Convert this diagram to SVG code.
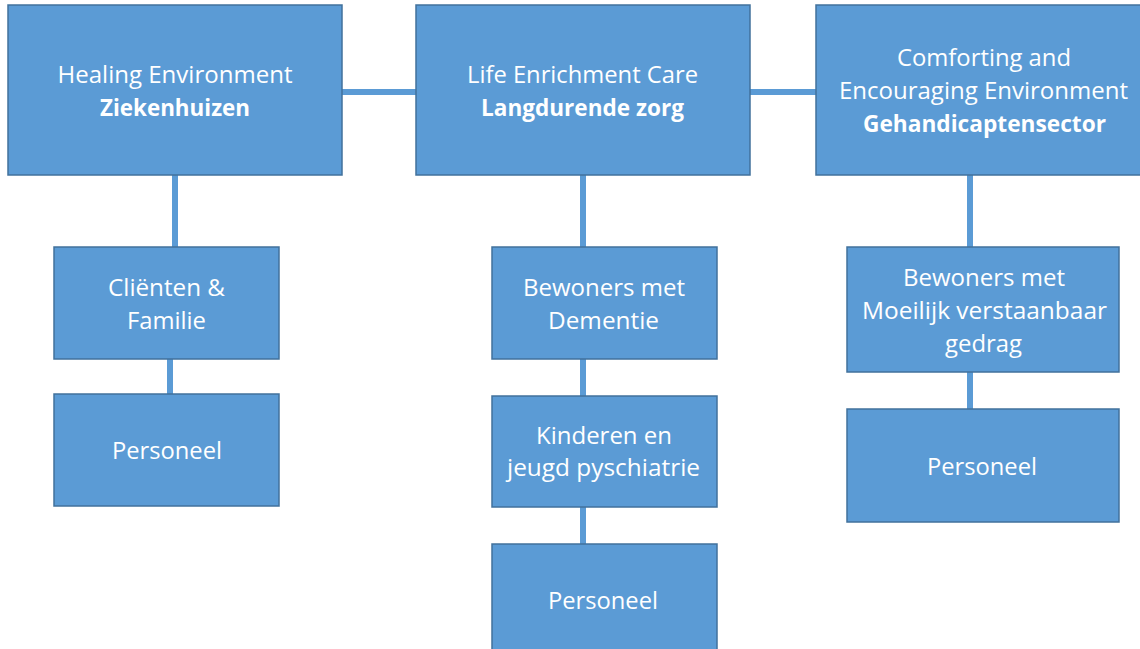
<svg xmlns="http://www.w3.org/2000/svg" width="1140" height="649" viewBox="0 0 1140 649">
<style>
.box{fill:#5B9BD5;stroke:#41719C;stroke-width:1.5}
.t{font-family:"Open Sans","Noto Sans",sans-serif;font-size:23px;fill:#FFFFFF;text-anchor:middle}
.b{font-weight:bold}
.c{stroke:#5B9BD5;stroke-width:6;fill:none}
</style>
<rect width="1140" height="649" fill="#FFFFFF"/>
<g id="connectors">
<line class="c" x1="342" y1="92" x2="416" y2="92"/>
<line class="c" x1="750" y1="92" x2="816" y2="92"/>
<line class="c" x1="175" y1="175" x2="175" y2="247"/>
<line class="c" x1="170" y1="359" x2="170" y2="394"/>
<line class="c" x1="583" y1="175" x2="583" y2="247"/>
<line class="c" x1="583" y1="359" x2="583" y2="396"/>
<line class="c" x1="583" y1="507" x2="583" y2="544"/>
<line class="c" x1="970" y1="175" x2="970" y2="247"/>
<line class="c" x1="970" y1="372" x2="970" y2="409"/>
</g>
<g id="healing">
<rect class="box" x="8" y="5" width="334" height="170"/>
<text class="t" x="175" y="83" textLength="235" lengthAdjust="spacingAndGlyphs">Healing Environment</text>
<text class="t b" x="175" y="116" textLength="150" lengthAdjust="spacingAndGlyphs">Ziekenhuizen</text>
</g>
<g id="life">
<rect class="box" x="416" y="5" width="334" height="170"/>
<text class="t" x="582.5" y="83" textLength="231" lengthAdjust="spacingAndGlyphs">Life Enrichment Care</text>
<text class="t b" x="582.5" y="116" textLength="203" lengthAdjust="spacingAndGlyphs">Langdurende zorg</text>
</g>
<g id="comforting">
<rect class="box" x="816" y="5" width="334" height="170"/>
<text class="t" x="984" y="66" textLength="174" lengthAdjust="spacingAndGlyphs">Comforting and</text>
<text class="t" x="983.5" y="99" textLength="289" lengthAdjust="spacingAndGlyphs">Encouraging Environment</text>
<text class="t b" x="984.5" y="132" textLength="243" lengthAdjust="spacingAndGlyphs">Gehandicaptensector</text>
</g>
<g id="clienten">
<rect class="box" x="54" y="247" width="225" height="112"/>
<text class="t" x="166.5" y="296" textLength="117" lengthAdjust="spacingAndGlyphs">Cliënten &amp;</text>
<text class="t" x="166.5" y="329" textLength="79" lengthAdjust="spacingAndGlyphs">Familie</text>
</g>
<g id="personeel1">
<rect class="box" x="54" y="394" width="225" height="112"/>
<text class="t" x="167" y="459" textLength="110" lengthAdjust="spacingAndGlyphs">Personeel</text>
</g>
<g id="dementie">
<rect class="box" x="492" y="247" width="225" height="112"/>
<text class="t" x="604" y="296" textLength="162" lengthAdjust="spacingAndGlyphs">Bewoners met</text>
<text class="t" x="603.5" y="329" textLength="111" lengthAdjust="spacingAndGlyphs">Dementie</text>
</g>
<g id="kinderen">
<rect class="box" x="492" y="396" width="225" height="111"/>
<text class="t" x="604" y="444" textLength="136" lengthAdjust="spacingAndGlyphs">Kinderen en</text>
<text class="t" x="603.5" y="476" textLength="193" lengthAdjust="spacingAndGlyphs">jeugd pyschiatrie</text>
</g>
<g id="personeel2">
<rect class="box" x="492" y="544" width="225" height="112"/>
<text class="t" x="603" y="609" textLength="110" lengthAdjust="spacingAndGlyphs">Personeel</text>
</g>
<g id="moeilijk">
<rect class="box" x="847" y="247" width="272" height="125"/>
<text class="t" x="984" y="286" textLength="162" lengthAdjust="spacingAndGlyphs">Bewoners met</text>
<text class="t" x="984.5" y="319" textLength="245" lengthAdjust="spacingAndGlyphs">Moeilijk verstaanbaar</text>
<text class="t" x="983.5" y="352" textLength="77" lengthAdjust="spacingAndGlyphs">gedrag</text>
</g>
<g id="personeel3">
<rect class="box" x="847" y="409" width="272" height="113"/>
<text class="t" x="982" y="475" textLength="110" lengthAdjust="spacingAndGlyphs">Personeel</text>
</g>
</svg>
